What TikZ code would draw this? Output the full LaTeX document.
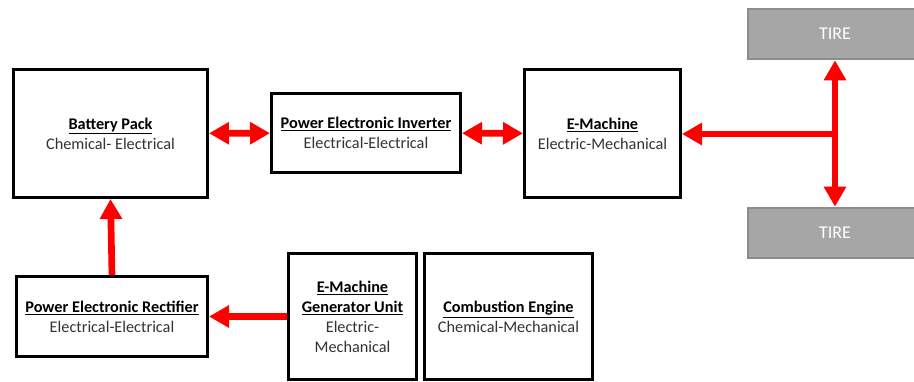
\documentclass[tikz,border=0pt]{standalone}
\usepackage{fontspec}
\setmainfont{Carlito}
\usetikzlibrary{arrows.meta}
\definecolor{flow}{HTML}{FF0000}
\definecolor{tire}{HTML}{A6A6A6}
\definecolor{tireedge}{HTML}{8C8C8C}
\definecolor{body}{HTML}{333333}

\begin{document}
\begin{tikzpicture}[x=0.75pt, y=-0.75pt,
        block/.style={rectangle, draw=black, line width=2.25pt, fill=white,
        align=center, inner sep=2pt, font=\fontsize{12.2}{15}\selectfont},
        tirebox/.style={rectangle, draw=tireedge, fill=tire, line width=2pt,
        minimum width=130.5pt, minimum height=37.5pt, text=white,
        font=\fontsize{13.5}{16}\selectfont},
        link/.style={draw=flow, line width=5pt},
        >={Triangle[length=15pt, width=16pt]},
      ]
      \clip (0, 0) rectangle (914, 382);

      \node[block, minimum width=145.5pt, minimum height=96pt] (bat) at (110.5, 133.5)
      {\underline{\textbf{Battery Pack}}\\\textcolor{body}{Chemical- Electrical}};
      \node[block, minimum width=141.75pt, minimum height=59.25pt] (inv) at (366, 133)
      {\underline{\textbf{Power Electronic Inverter}}\\\textcolor{body}{Electrical-Electrical}};
      \node[block, minimum width=117pt, minimum height=96pt] (emach) at (602.5, 133.5)
      {\underline{\textbf{E-Machine}}\\\textcolor{body}{Electric-Mechanical}};

      \node[tirebox] (tiretop) at (835, 34) {TIRE};
      \node[tirebox] (tirebot) at (835, 233) {TIRE};

      \node[block, minimum width=143.25pt, minimum height=60pt] (rect) at (112, 316.5)
      {\underline{\textbf{Power Electronic Rectifier}}\\\textcolor{body}{Electrical-Electrical}};
      \node[block, minimum width=96pt, minimum height=94.5pt] (gen) at (352.5, 316.5)
      {\underline{\textbf{E-Machine}}\\\underline{\textbf{Generator Unit}}\\
      \textcolor{body}{Electric-}\\\textcolor{body}{Mechanical}};
      \node[block, minimum width=126pt, minimum height=94.5pt] (comb) at (508.5, 316.5)
      {\underline{\textbf{Combustion Engine}}\\\textcolor{body}{Chemical-Mechanical}};

      \coordinate (hub) at (835, 134);

      \draw[link, <->] (bat) -- (inv);
      \draw[link, <->] (inv) -- (emach);
      \draw[link, <->] (tiretop) -- (tirebot);
      \draw[link, ->] (hub) -- (emach.east |- hub);
      \draw[link, ->] (gen) -- (rect);
      \draw[link, ->] (rect.north) -- (bat.south);
    \end{tikzpicture}
\end{document}
